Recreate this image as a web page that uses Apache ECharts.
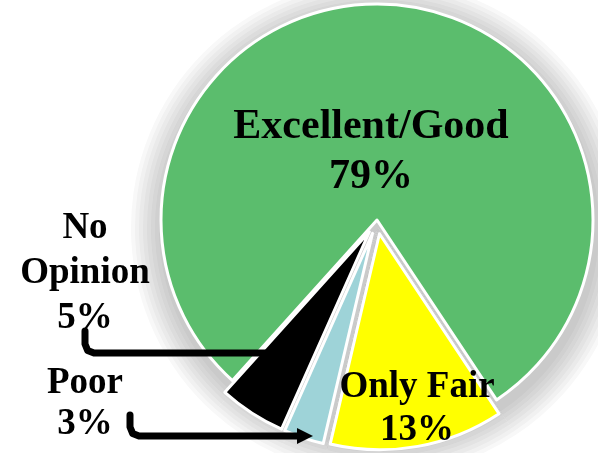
<!DOCTYPE html>
<html>
<head>
<meta charset="utf-8">
<script src="https://cdn.jsdelivr.net/npm/echarts@6/dist/echarts.min.js"></script>
<style>
  html, body { margin: 0; padding: 0; background: #fff; }
  #chart { width: 598px; height: 453px; }
</style>
</head>
<body>
<div id="chart"></div>
<script>
  // data
  var categories = ['Excellent/Good', 'Only Fair', 'Poor', 'No Opinion'];
  var shares = [79, 13, 3, 5];
  var labelNames = ['Excellent/Good', 'Only Fair', 'Poor', 'No\nOpinion'];
  var colors = ['#5BBD6D', '#FFFF00', '#9ED3D8', '#000000'];
  var exploded = [false, true, true, true];

  // where each label sits (px) and its type size
  var labelPos = [[371, 152], [417, 409], [85, 404], [85, 273]];
  var labelSize = [42, 37, 37, 37];
  var labelLH = [50, 43, 41, 45];

  var CENTER = [377, 220];
  var RADIUS = 216;
  var START = 228;

  // elbow connector: down from the label, round corner, across to the slice
  function elbow(x0, y0, yMid, x1, r) {
    return [
      [x0, y0], [x0, yMid - r],
      [x0 + r * 0.29, yMid - r * 0.29],
      [x0 + r, yMid],
      [x1, yMid]
    ];
  }

  var chart = echarts.init(document.getElementById('chart'));

  function pieBase() {
    return {
      type: 'pie',
      center: CENTER,
      radius: [0, RADIUS],
      startAngle: START,
      clockwise: true,
      selectedMode: 'multiple',
      selectedOffset: 14,
      avoidLabelOverlap: false,
      emphasis: { disabled: true },
      labelLine: { show: false }
    };
  }

  // soft gray halo: a few faint, slightly larger unexploded copies under the slices
  var haloSeries = [];
  for (var k = 8; k >= 1; k--) {
    haloSeries.push(Object.assign(pieBase(), {
      z: 1,
      silent: true,
      selectedMode: false,
      center: [CENTER[0] + 2, CENTER[1] + 8],
      radius: [0, RADIUS + 4 * k],
      label: { show: false },
      itemStyle: { color: 'rgba(40,40,40,0.032)', borderWidth: 0 },
      data: categories.map(function (c, i) {
        return { name: c, value: shares[i] };
      })
    }));
  }

  // the slices
  var sliceSeries = Object.assign(pieBase(), {
    z: 2,
    label: { show: false },
    itemStyle: { borderColor: '#fff', borderWidth: 3 },
    data: categories.map(function (c, i) {
      return { name: c, value: shares[i], selected: exploded[i], itemStyle: { color: colors[i] } };
    })
  });

  // labels (unexploded copy, invisible sectors)
  var labelSeries = Object.assign(pieBase(), {
    z: 3,
    silent: true,
    selectedMode: false,
    itemStyle: { color: 'transparent', borderWidth: 0 },
    label: {
      show: true,
      position: 'inside',
      color: '#000',
      fontFamily: 'Liberation Serif',
      fontWeight: 'bold',
      formatter: function (p) {
        return labelNames[p.dataIndex] + '\n' + p.value + '%';
      }
    },
    labelLayout: function (p) {
      var pos = labelPos[p.dataIndex];
      return { x: pos[0], y: pos[1], align: 'center', verticalAlign: 'middle' };
    },
    data: categories.map(function (c, i) {
      return {
        name: c,
        value: shares[i],
        label: { fontSize: labelSize[i], lineHeight: labelLH[i] }
      };
    })
  });

  chart.setOption({
    backgroundColor: '#fff',
    animation: false,
    series: haloSeries.concat([sliceSeries, labelSeries]),
    // connector arrows from the outside labels to their slices
    graphic: [
      {
        type: 'polyline',
        shape: { points: elbow(85, 331, 353, 268, 9) },
        style: { fill: null, stroke: '#000', lineWidth: 7, lineCap: 'round', lineJoin: 'round' },
        z: 100
      },
      {
        type: 'polyline',
        shape: { points: elbow(130, 415, 436, 300, 9) },
        style: { fill: null, stroke: '#000', lineWidth: 7, lineCap: 'round', lineJoin: 'round' },
        z: 100
      },
      {
        type: 'polygon',
        shape: { points: [[297, 428], [313, 436], [297, 444]] },
        style: { fill: '#000' },
        z: 100
      }
    ]
  });
</script>
</body>
</html>
